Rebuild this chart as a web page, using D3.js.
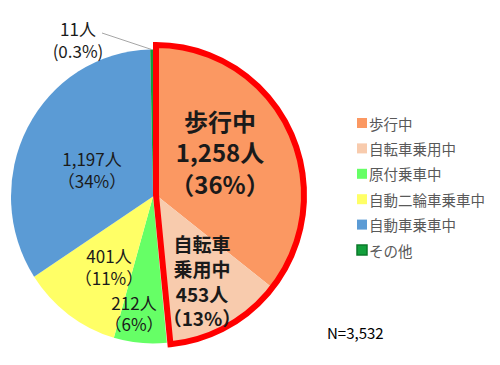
<!DOCTYPE html>
<html><head><meta charset="utf-8">
<script src="https://cdn.jsdelivr.net/npm/d3@7"></script>
<style>
html,body{margin:0;padding:0;background:#fff;}
svg{display:block;}
text{font-family:"Noto Sans CJK JP","Noto Sans",sans-serif;}
</style></head>
<body>
<svg id="chart" width="500" height="365"></svg>
<script>
// ---- data ----
const categories = ["歩行中","自転車乗用中","原付乗車中","自動二輪車乗車中","自動車乗車中","その他"];
const values = [1258, 453, 212, 401, 1197, 11];
const percentLabels = ["36%", "13%", "6%", "11%", "34%", "0.3%"];
const colors = ["#FB9862", "#F8CBAD", "#66FF66", "#FFFF66", "#5B9BD5", "#12A03C"];
const highlighted = [0, 1]; // slices enclosed by red outline
const totalLabel = "N=3,532";

// ---- layout ----
const svg = d3.select("#chart");
const main = {cx:153, cy:196.5, rx:142, ry:147};
const hi = {cx:156, cy:195, rx:148, ry:150};

const pie = d3.pie().sort(null).value(d => d);
const arcsData = pie(values);

function group(g){
  return svg.append("g").attr("transform",
    `translate(${g.cx},${g.cy}) scale(${g.rx/g.ry},1)`);
}
const gMain = group(main);
const arcMain = d3.arc().innerRadius(0).outerRadius(main.ry);
gMain.selectAll("path").data(arcsData.filter((d,i)=>!highlighted.includes(i)))
  .join("path").attr("d", arcMain).attr("fill", d => colors[d.index]);

const gHi = group(hi);
const arcHi = d3.arc().innerRadius(0).outerRadius(hi.ry);
gHi.selectAll("path.s").data(arcsData.filter((d,i)=>highlighted.includes(i)))
  .join("path").attr("class","s").attr("d", arcHi).attr("fill", d => colors[d.index]);
// red outline around combined wedge
const hiStart = arcsData[highlighted[0]].startAngle;
const hiEnd = arcsData[highlighted[highlighted.length-1]].endAngle;
gHi.append("path")
  .attr("d", arcHi({startAngle:hiStart, endAngle:hiEnd}))
  .attr("fill","none").attr("stroke","#FF0000").attr("stroke-width",6)
  .attr("stroke-linejoin","miter").attr("vector-effect","non-scaling-stroke");

// ---- labels ----
const fmt = d3.format(",");
const labelDefs = [
  {i:0, x:220, ys:[120,151,183], size:24, weight:"bold", lines:[categories[0], fmt(values[0])+"人", "（"+percentLabels[0]+"）"]},
  {i:1, x:202, ys:[243,268,293,317], size:19, weight:"bold", lines:["自転車","乗用中", fmt(values[1])+"人", "（"+percentLabels[1]+"）"]},
  {i:4, x:92, ys:[158,180], size:17, weight:"normal", lines:[fmt(values[4])+"人", "（"+percentLabels[4]+"）"]},
  {i:3, x:109, ys:[255,277], size:17, weight:"normal", lines:[fmt(values[3])+"人", "（"+percentLabels[3]+"）"]},
  {i:2, x:134, ys:[302,323], size:17, weight:"normal", lines:[fmt(values[2])+"人", "（"+percentLabels[2]+"）"]},
  {i:5, x:78, ys:[28,50], size:17, weight:"normal", lines:[fmt(values[5])+"人", "("+percentLabels[5]+")"]}
];
labelDefs.forEach(L => {
  L.lines.forEach((t,k) => {
    svg.append("text").attr("x", L.x).attr("y", L.ys[k])
      .attr("text-anchor","middle").attr("dominant-baseline","central")
      .attr("font-size", L.size).attr("font-weight", L.weight)
      .attr("fill","#1a1a1a").text(t);
  });
});

// leader line for the tiny slice
const other = arcsData[5];
const midA = (other.startAngle + other.endAngle)/2;
const lx = main.cx + Math.sin(midA)*main.rx;
const ly = main.cy - Math.cos(midA)*main.ry;
svg.append("line").attr("x1",102).attr("y1",33).attr("x2",lx).attr("y2",ly)
  .attr("stroke","#A6A6A6").attr("stroke-width",1);

// ---- legend ----
const legend = svg.append("g").attr("transform","translate(357,123)");
const rowH = 25.4;
categories.forEach((c,i) => {
  legend.append("rect").attr("x",0).attr("y", i*rowH - 5).attr("width",10).attr("height",10)
    .attr("fill", colors[i]).attr("stroke", i===5 ? "#0B7A2A" : "none").attr("stroke-width", i===5?1.5:0);
  legend.append("text").attr("x",12).attr("y", i*rowH)
    .attr("dominant-baseline","central").attr("font-size",14.5)
    .attr("fill","#595959").text(c);
});

svg.append("text").attr("x",327).attr("y",332).attr("dominant-baseline","central")
  .attr("font-family","'Liberation Sans',Arial,sans-serif").attr("font-size",15)
  .attr("fill","#000").text(totalLabel);
</script>
</body></html>
